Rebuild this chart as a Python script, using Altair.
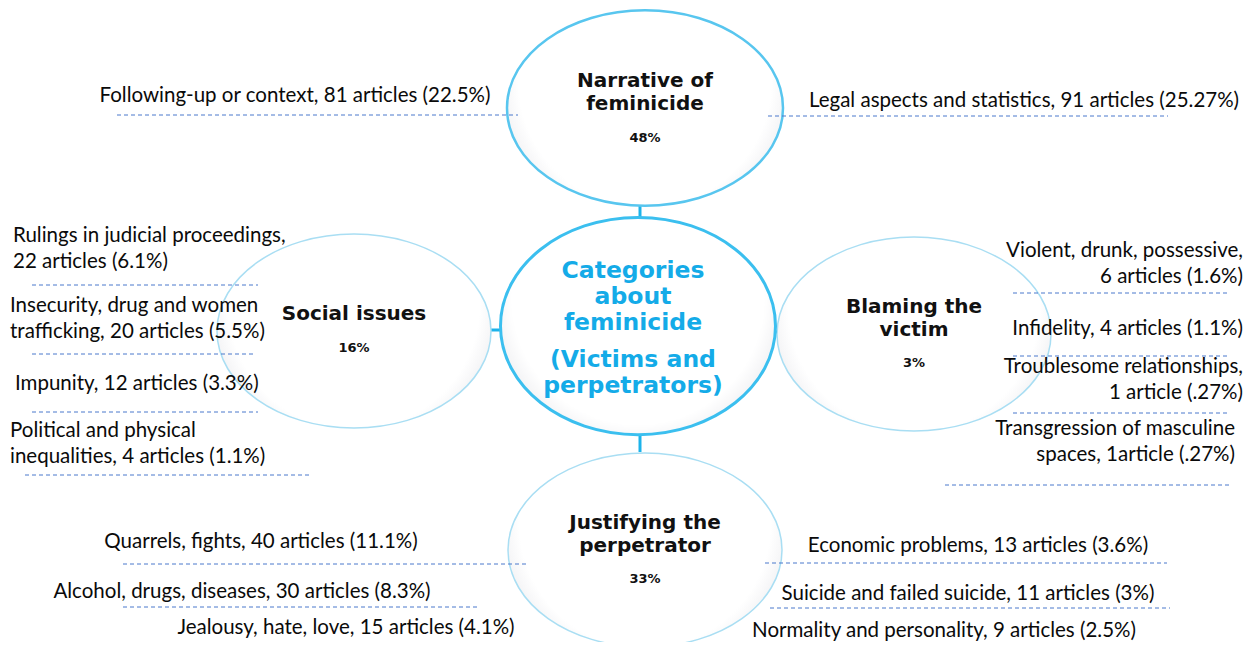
import altair as alt
import pandas as pd

# ---------------- data ----------------
# satellite ellipses (category nodes)
node_cx = [645, 354, 914, 645]
node_cy = [108, 331, 334, 550]
node_title = ["Narrative of\nfeminicide", "Social issues", "Blaming the\nvictim", "Justifying the\nperpetrator"]
node_title_y = [87, 320, 313, 529]
node_pct = ["48%", "16%", "3%", "33%"]
node_pct_y = [142, 352, 367, 583]

# central ellipse
center_cx = [638]
center_cy = [326]
center_lines = ["Categories\nabout\nfeminicide", "(Victims  and\nperpetrators)"]
center_lines_x = [633, 633]
center_lines_y = [278, 367]

# labels, left aligned
left_labels = ["Rulings in judicial proceedings,\n22 articles (6.1%)",
               "Insecurity, drug and women\ntrafficking, 20 articles (5.5%)",
               "Impunity, 12 articles (3.3%)",
               "Political and physical\ninequalities, 4 articles (1.1%)"]
left_x = [13, 10, 15, 10]
left_y = [242, 312, 390, 437]

# labels, right aligned
right_labels = ["Violent, drunk, possessive,\n6 articles (1.6%)",
                "Infidelity, 4 articles (1.1%)",
                "Troublesome relationships,\n1 article (.27%)",
                "Transgression of masculine\nspaces, 1article (.27%)"]
right_x = [1243, 1243, 1243, 1235]
right_y = [257, 335, 373, 435]

# labels, centred
mid_labels = ["Following-up or context, 81 articles (22.5%)",
              "Legal aspects and statistics, 91 articles (25.27%)",
              "Quarrels, fights, 40 articles (11.1%)",
              "Alcohol, drugs, diseases, 30 articles (8.3%)",
              "Jealousy, hate, love, 15 articles (4.1%)",
              "Economic problems, 13 articles (3.6%)",
              "Suicide and failed suicide, 11 articles (3%)",
              "Normality and personality, 9 articles (2.5%)"]
mid_x = [295, 1024, 261, 242, 346, 978, 968, 944]
mid_y = [102, 107, 548, 598, 634, 552, 600, 637]

# dashed separators
dash_x1 = [117, 768, 32, 32, 32, 25, 1013, 1013, 1013, 945, 123, 123, 765, 770]
dash_x2 = [518, 1168, 258, 255, 258, 312, 1230, 1230, 1230, 1230, 528, 478, 1167, 1170]
dash_y = [115, 116, 285, 354, 412, 475, 293, 356, 413, 485, 564, 607, 563, 608]

# connectors between ellipses
conn_x1 = [640, 640, 490, 768]
conn_x2 = [640, 640, 502, 779]
conn_y1 = [205, 435, 330, 332]
conn_y2 = [218, 452, 330, 332]

# ---------------- chart ----------------
xs = alt.Scale(domain=[8, 1246], nice=False, zero=False)
ys = alt.Scale(domain=[8, 642], nice=False, zero=False, reverse=True)

ELL_SAT = "M-1,0C-1,-0.391,-0.552,-0.708,0,-0.708C0.552,-0.708,1,-0.391,1,0C1,0.391,0.552,0.708,0,0.708C-0.552,0.708,-1,0.391,-1,0Z"
ELL_CEN = "M-1,0C-1,-0.436,-0.552,-0.79,0,-0.79C0.552,-0.79,1,-0.436,1,0C1,0.436,0.552,0.79,0,0.79C-0.552,0.79,-1,0.436,-1,0Z"

grad = alt.RadialGradient(
    gradient="radial",
    stops=[alt.GradientStop(color="#ffffff", offset=0),
           alt.GradientStop(color="#ffffff", offset=0.74),
           alt.GradientStop(color="#f2f2f4", offset=0.86),
           alt.GradientStop(color="#b9b9bf", offset=1)],
    x1=0.5, y1=0.4, r1=0, x2=0.5, y2=0.4, r2=0.62)

nodes = pd.DataFrame({"x": node_cx, "y": node_cy, "title": node_title,
                      "ty": node_title_y, "pct": node_pct, "py": node_pct_y})
center = pd.DataFrame({"x": center_cx, "y": center_cy})
center_t = pd.DataFrame({"x": center_lines_x, "y": center_lines_y, "t": center_lines})
left_df = pd.DataFrame({"x": left_x, "y": left_y, "t": left_labels})
right_df = pd.DataFrame({"x": right_x, "y": right_y, "t": right_labels})
mid_df = pd.DataFrame({"x": mid_x, "y": mid_y, "t": mid_labels})
dash_df = pd.DataFrame({"x1": dash_x1, "x2": dash_x2, "y": dash_y})
conn_df = pd.DataFrame({"x1": conn_x1, "x2": conn_x2, "y1": conn_y1, "y2": conn_y2})

X = lambda f: alt.X(f, type="quantitative", scale=xs, axis=None)
Y = lambda f: alt.Y(f, type="quantitative", scale=ys, axis=None)

connectors = alt.Chart(conn_df).mark_rule(color="#1cb3ea", strokeWidth=3).encode(
    x=X("x1"), x2="x2", y=Y("y1"), y2="y2")

sat_top = alt.Chart(nodes.iloc[[0]]).mark_point(
    shape=ELL_SAT, size=276 ** 2, filled=True, fill=grad, fillOpacity=1,
    stroke="#58c6ef", strokeWidth=2.5, opacity=1).encode(x=X("x"), y=Y("y"))
sat_rest = alt.Chart(nodes.iloc[1:]).mark_point(
    shape=ELL_SAT, size=274 ** 2, filled=True, fill=grad, fillOpacity=1,
    stroke="#a9def3", strokeWidth=1.5, opacity=1).encode(x=X("x"), y=Y("y"))
cen = alt.Chart(center).mark_point(
    shape=ELL_CEN, size=275 ** 2, filled=True, fill=grad, fillOpacity=1,
    stroke="#3bbfef", strokeWidth=3, opacity=1).encode(x=X("x"), y=Y("y"))

dashes = alt.Chart(dash_df).mark_rule(color="#4a78cc", strokeWidth=1, strokeDash=[4, 3]).encode(
    x=X("x1"), x2="x2", y=Y("y"))

TFONT = "DejaVu Sans"
FONT = "Lato"
titles = alt.Chart(nodes).mark_text(
    align="center", baseline="alphabetic", font=TFONT, fontSize=20, fontWeight="bold",
    color="#111111", lineBreak="\n", lineHeight=23).encode(x=X("x"), y=Y("ty"), text="title")
pcts = alt.Chart(nodes).mark_text(
    align="center", baseline="alphabetic", font=TFONT, fontSize=13, fontWeight="bold",
    color="#111111").encode(x=X("x"), y=Y("py"), text="pct")
cen_text = alt.Chart(center_t).mark_text(
    align="center", baseline="alphabetic", font=TFONT, fontSize=23.5, fontWeight="bold",
    color="#14abe8", lineBreak="\n", lineHeight=26).encode(x=X("x"), y=Y("y"), text="t")

lab_kw = dict(baseline="alphabetic", font=FONT, fontSize=20.5, color="#0a0a0a",
              lineBreak="\n", lineHeight=25.5)
left_t = alt.Chart(left_df).mark_text(align="left", **lab_kw).encode(x=X("x"), y=Y("y"), text="t")
right_t = alt.Chart(right_df).mark_text(align="right", **lab_kw).encode(x=X("x"), y=Y("y"), text="t")
mid_t = alt.Chart(mid_df).mark_text(align="center", **lab_kw).encode(x=X("x"), y=Y("y"), text="t")

chart = alt.layer(connectors, sat_top, sat_rest, cen, dashes, titles, pcts, cen_text,
                  left_t, right_t, mid_t).properties(
    width=1238, height=634, padding=0, autosize=alt.AutoSizeParams(type="none"),
    background="#ffffff"
).configure_view(stroke=None)

chart.save("out.html", embed_options={"renderer": "svg", "actions": False})
